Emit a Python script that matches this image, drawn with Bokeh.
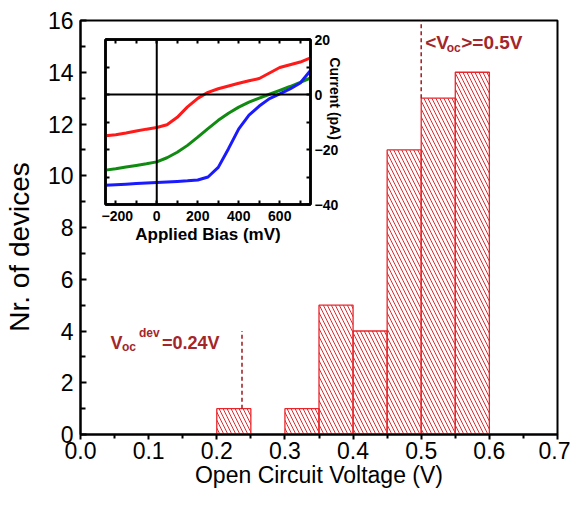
from bokeh.plotting import figure
from bokeh.models import (Range1d, FixedTicker, PrintfTickFormatter, LinearAxis,
                          Label, Span, ColumnDataSource)
from bokeh.layouts import row
from bokeh.embed import file_html
from bokeh.resources import INLINE

FONT = "Liberation Sans"
BAR_RED = "#e8262b"
ANN_RED = "#a3262a"
NBSP = "\u00a0"

# ---------------- histogram data ----------------
bin_left = [0.20, 0.25, 0.30, 0.35, 0.40, 0.45, 0.50, 0.55]
bin_right = [0.25, 0.30, 0.35, 0.40, 0.45, 0.50, 0.55, 0.60]
counts = [1, 0, 1, 5, 4, 11, 13, 14]

marker_x = [0.50, 0.237]
marker_bottom = [13, 1]
marker_top = [16, 4]

x_ticks = [0.0, 0.1, 0.2, 0.3, 0.4, 0.5, 0.6, 0.7]
x_minor = [0.05, 0.15, 0.25, 0.35, 0.45, 0.55, 0.65]
y_ticks = [0, 2, 4, 6, 8, 10, 12, 14, 16]
y_minor = [1, 3, 5, 7, 9, 11, 13, 15]

# ---------------- inset I-V data ----------------
bias_mv = [-250, -200, -150, -100, -50, 0, 50, 100, 150, 200, 250,
           300, 350, 400, 450, 500, 550, 600, 650, 700, 750]
current_red = [-15.0, -14.6, -14.0, -13.3, -12.6, -12.0, -11.0, -8.3, -4.5, -1.4, 0.8,
               2.1, 3.1, 4.1, 5.0, 5.8, 7.8, 9.8, 10.8, 11.8, 13.3]
current_green = [-27.5, -27.0, -26.4, -25.8, -25.2, -24.5, -23.0, -21.0, -18.5, -15.5, -12.4,
                 -9.4, -6.8, -4.6, -2.8, -1.3, 0.1, 1.5, 2.9, 4.4, 6.0]
current_blue = [-33.0, -32.8, -32.6, -32.4, -32.2, -32.0, -31.8, -31.6, -31.4, -31.1, -30.0,
                -26.5, -19.7, -12.5, -7.5, -4.2, -1.5, 0.2, 2.0, 4.2, 8.7]

inset_x_ticks = [-200, 0, 200, 400, 600]
inset_x_minor = [-100, 100, 300, 500, 700]
inset_y_ticks = [-40, -20, 0, 20]
inset_y_minor = [-30, -10, 10]

# ---------------- main figure ----------------
p = figure(width=570, height=492, x_range=Range1d(0, 0.7), y_range=Range1d(0, 16),
           output_backend="svg", toolbar_location=None,
           min_border_left=80, min_border_top=20, min_border_right=13, min_border_bottom=58)
p.background_fill_color = "white"
p.border_fill_color = "white"
p.grid.visible = False
p.outline_line_color = "black"
p.outline_line_width = 2

bars = [(l, r, c) for l, r, c in zip(bin_left, bin_right, counts) if c > 0]
src = ColumnDataSource(dict(left=[b[0] for b in bars], right=[b[1] for b in bars],
                            top=[b[2] for b in bars], bottom=[0] * len(bars)))
p.quad(left="left", right="right", top="top", bottom="bottom", source=src,
       fill_color="white", fill_alpha=0.0, line_color=BAR_RED, line_width=1.3,
       hatch_pattern="\\", hatch_color=BAR_RED, hatch_weight=1, hatch_scale=8)

p.segment(x0=marker_x, x1=marker_x, y0=marker_bottom, y1=marker_top,
          line_color=ANN_RED, line_width=1.6, line_dash="4 3")

xa = p.xaxis[0]
xa.ticker = FixedTicker(ticks=x_ticks, minor_ticks=x_minor)
xa.formatter = PrintfTickFormatter(format="%.1f")
ya = p.yaxis[0]
ya.ticker = FixedTicker(ticks=y_ticks, minor_ticks=y_minor)
for ax in (xa, ya):
    ax.axis_line_width = 2
    ax.axis_line_color = "black"
    ax.major_tick_line_width = 2
    ax.minor_tick_line_width = 2
    ax.major_label_text_font = FONT
    ax.major_label_text_font_size = "23px"
    ax.major_label_text_color = "black"
    ax.axis_label_text_font = FONT
    ax.axis_label_text_font_style = "normal"
    ax.axis_label_text_color = "black"
xa.major_tick_out = 5
xa.major_tick_in = 0
xa.minor_tick_out = 4
xa.minor_tick_in = 0
xa.major_label_standoff = 2
xa.axis_label = "Open Circuit Voltage (V)"
xa.axis_label_text_font_size = "23px"
xa.axis_label_standoff = 0
ya.major_tick_in = 6
ya.major_tick_out = 0
ya.minor_tick_in = 5
ya.minor_tick_out = 0
ya.major_label_standoff = 7
# trailing no-break spaces move the visible title a little below the frame centre
ya.axis_label = "Nr. of devices" + NBSP * 5
ya.axis_label_text_font_size = "28px"
ya.axis_label_standoff = 10


def ann(x, y, text, size, xoff):
    p.add_layout(Label(x=x, y=y, x_offset=xoff, text=text, text_align="left",
                       text_baseline="alphabetic", text_font=FONT,
                       text_font_size=size, text_font_style="bold", text_color=ANN_RED))


# <V_oc>=0.5V
ann(0.5, 15.16, "<V", "19px", 4)
ann(0.5, 14.94, "oc", "12px", 25.5)
ann(0.5, 15.16, ">=0.5V", "19px", 40)
# V_oc^dev=0.24V
ann(0.044, 3.54, "V", "18px", 0)
ann(0.044, 3.39, "oc", "12px", 11.5)
ann(0.044, 3.92, "dev", "12px", 28.5)
ann(0.044, 3.54, "=0.24V", "18px", 51.5)

# ---------------- inset figure ----------------
q = figure(width=255, height=243, x_range=Range1d(-250, 750), y_range=Range1d(-40, 20),
           output_backend="svg", toolbar_location=None, y_axis_location="right",
           min_border_left=4, min_border_top=20, min_border_right=46, min_border_bottom=58)
q.background_fill_color = "white"
q.border_fill_alpha = 0.0
q.grid.visible = False
q.outline_line_color = "black"
q.outline_line_width = 2.5

q.add_layout(Span(location=0, dimension="height", line_color="black", line_width=2))
q.add_layout(Span(location=0, dimension="width", line_color="black", line_width=2))
q.line(bias_mv, current_red, line_color="#ff1a1a", line_width=3)
q.line(bias_mv, current_green, line_color="#118a11", line_width=3)
q.line(bias_mv, current_blue, line_color="#1a1aff", line_width=3)

qx = q.xaxis[0]
qy = q.yaxis[0]
qx.ticker = FixedTicker(ticks=inset_x_ticks, minor_ticks=inset_x_minor)
qy.ticker = FixedTicker(ticks=inset_y_ticks, minor_ticks=inset_y_minor)
qx.axis_label = "Applied Bias (mV)"
qx.axis_label_text_font_size = "17px"
qx.axis_label_standoff = 1

# top and left: ticks only (as minor ticks, so no labels are produced)
top_ax = LinearAxis(ticker=FixedTicker(ticks=[], minor_ticks=inset_x_ticks + inset_x_minor))
left_ax = LinearAxis(ticker=FixedTicker(ticks=[], minor_ticks=inset_y_ticks + inset_y_minor))
q.add_layout(top_ax, "above")
q.add_layout(left_ax, "left")

for ax in (qx, qy, top_ax, left_ax):
    ax.axis_line_width = 2.5
    ax.axis_line_color = "black"
    ax.major_tick_in = 4
    ax.major_tick_out = 0
    ax.minor_tick_in = 4
    ax.minor_tick_out = 0
    ax.major_tick_line_width = 2
    ax.minor_tick_line_width = 2
    ax.major_label_text_font = FONT
    ax.major_label_text_font_style = "bold"
    ax.major_label_text_color = "black"
    ax.major_label_text_font_size = "14px"
    ax.axis_label_text_font = FONT
    ax.axis_label_text_font_style = "bold"
    ax.axis_label_text_color = "black"
top_ax.major_label_standoff = 0
left_ax.major_label_standoff = 0
qx.major_label_standoff = 6
qy.major_label_standoff = 4
# inset y title: pulled in beside the one-digit "0" label and moved up with no-break spaces
qy.axis_label = "Current (pA)" + NBSP * 12
qy.axis_label_text_font_size = "14px"
qy.axis_label_standoff = -14

# place the inset over the main plot (row: 570 wide main, inset pulled back left)
q.margin = (19, 214, 0, -469)

layout = row(p, q, spacing=0)
open("out.html", "w").write(file_html(layout, INLINE))
